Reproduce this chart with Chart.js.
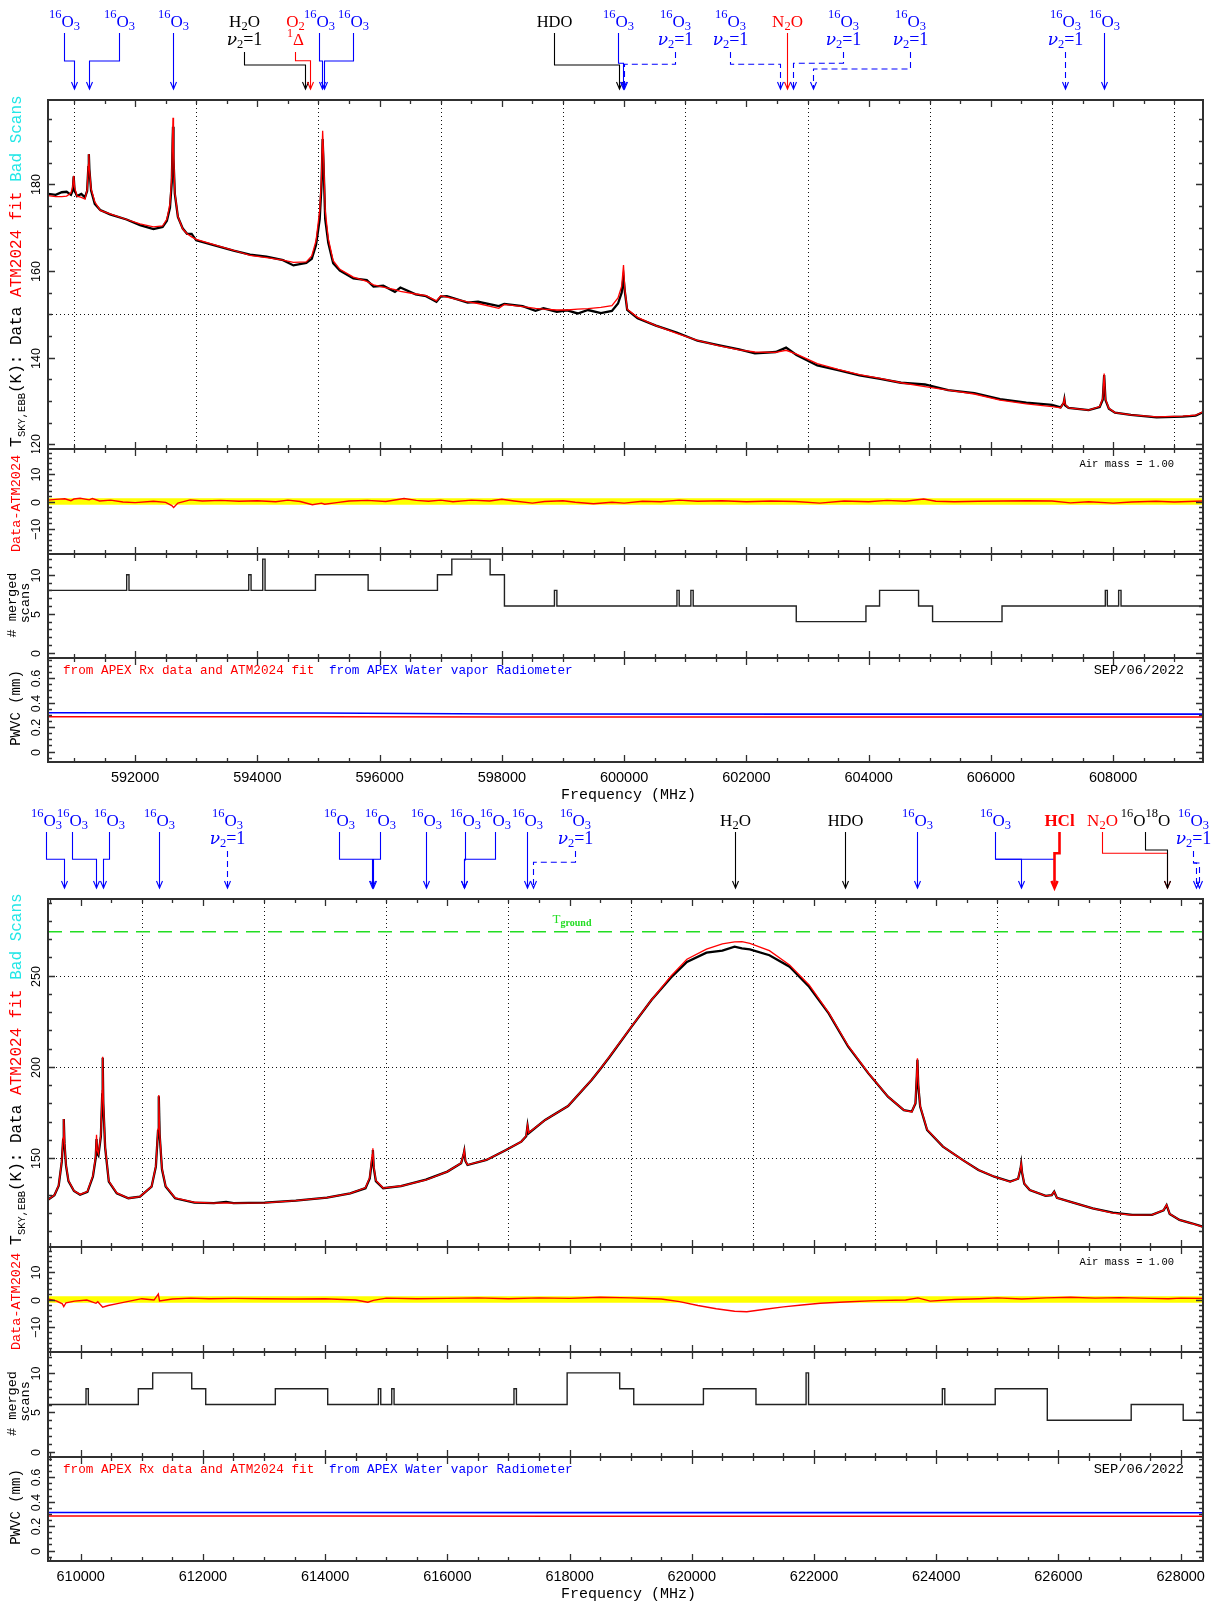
<!DOCTYPE html>
<html>
<head>
<meta charset="utf-8">
<title>APEX sky spectrum 590-628 GHz</title>
<script src="https://cdn.jsdelivr.net/npm/chart.js@4.4.1/dist/chart.umd.min.js"></script>
<style>
  body { margin: 0; background: #fff; }
  #page { position: relative; width: 1218px; height: 1602px; overflow: hidden; }
  #page canvas { position: absolute; left: 0; }
</style>
</head>
<body>
<div id="page"></div>
<script>
const MONO = '"Liberation Mono", monospace';
const SANS = '"Liberation Sans", Arial, sans-serif';
const SERIF = '"Liberation Serif", "Times New Roman", serif';
const GREEK = '"DejaVu Serif", serif';
const RED = '#ff0000', BLUE = '#0000ff', BLACK = '#000000', CYAN = '#22e6e6', GREEN = '#22dd22';

// frequency span of each half (MHz)
const topRange = [590575, 609470];
const botRange = [609465, 628365];

// ---- sky temperature, upper half (MHz / K) ----
const topFreq = [590580, 590700, 590800, 590880, 590950, 590980, 590995, 591010, 591050, 591120,
  591180, 591215, 591235, 591243, 591252, 591280, 591340, 591430, 591590, 591860,
  592080, 592300, 592450, 592520, 592570, 592600, 592614, 592620, 592628, 592650,
  592700, 592780, 592850, 592925, 593000, 593330, 593610, 593880, 594150, 594420,
  594590, 594800, 594890, 594960, 595020, 595050, 595068, 595082, 595110, 595160,
  595240, 595350, 595570, 595790, 595900, 596060, 596250, 596340, 596590, 596760,
  596930, 597000, 597100, 597440, 597610, 597950, 598040, 598340, 598550, 598680,
  598900, 599070, 599240, 599410, 599620, 599800, 599900, 599960, 599990, 600010,
  600050, 600220, 600520, 600860, 601200, 601540, 601880, 602140, 602480, 602650,
  602820, 603160, 603500, 603850, 604190, 604530, 604920, 605300, 605730, 606150,
  606580, 607000, 607140, 607190, 607202, 607215, 607270, 607600, 607780, 607830,
  607853, 607875, 607930, 608030, 608290, 608710, 609140, 609350, 609470];
const topData = [177.8, 177.6, 178.2, 178.3, 177.6, 178.6, 181.9, 178.6, 177.3, 177.8,
  177.0, 178.5, 184.0, 187.0, 183.5, 178.6, 175.5, 174.1, 173.1, 171.9,
  170.6, 169.7, 170.2, 171.6, 174.6, 180.5, 190.0, 193.3, 186.0, 177.8,
  172.5, 169.8, 168.6, 168.6, 167.1, 165.8, 164.7, 163.8, 163.3, 162.5,
  161.3, 161.9, 162.8, 166.0, 172.0, 180.0, 190.5, 185.0, 172.0, 166.5,
  161.8, 160.1, 158.3, 157.9, 156.4, 156.6, 155.2, 156.2, 154.6, 154.2,
  152.9, 154.1, 154.2, 152.7, 152.9, 151.9, 152.4, 151.9, 150.8, 151.4,
  150.6, 150.9, 150.2, 151.0, 150.3, 150.8, 152.5, 155.0, 158.7, 155.5,
  151.0, 149.1, 147.4, 145.8, 143.9, 142.9, 141.9, 141.0, 141.3, 142.3,
  140.6, 138.2, 137.1, 135.9, 135.1, 134.2, 133.8, 132.5, 131.8, 130.4,
  129.6, 129.1, 128.5, 129.5, 130.4, 129.0, 128.4, 127.9, 128.6, 130.3,
  136.0, 130.2, 128.2, 127.3, 126.8, 126.2, 126.4, 126.6, 127.4];
const topFit = [177.4, 177.2, 177.2, 177.3, 178.0, 179.5, 182.0, 179.3, 177.3, 177.0,
  176.6, 178.8, 184.5, 187.0, 183.5, 179.0, 176.0, 174.0, 173.2, 171.9,
  170.9, 170.2, 170.4, 172.0, 175.5, 182.0, 192.0, 195.4, 188.0, 178.2,
  172.6, 169.7, 168.6, 167.9, 167.3, 165.9, 164.8, 163.6, 163.1, 162.5,
  162.0, 162.1, 163.5, 167.0, 174.0, 182.0, 192.4, 187.0, 174.0, 167.5,
  162.4, 160.4, 158.6, 157.6, 156.8, 156.3, 155.7, 155.3, 154.7, 154.3,
  153.1, 154.3, 154.0, 152.9, 152.5, 151.4, 152.3, 151.8, 151.4, 151.2,
  151.0, 151.0, 151.2, 151.3, 151.6, 152.0, 153.8, 156.5, 161.4, 156.0,
  151.2, 149.3, 147.4, 145.6, 144.0, 142.8, 141.8, 141.3, 141.2, 141.7,
  140.8, 138.6, 137.3, 136.1, 135.2, 134.2, 133.3, 132.5, 131.6, 130.2,
  129.3, 128.7, 128.4, 129.6, 130.5, 129.2, 128.4, 127.9, 128.7, 130.6,
  136.3, 130.4, 128.3, 127.3, 126.8, 126.3, 126.5, 126.7, 127.5];

// ---- sky temperature, lower half ----
const botFreq = [609470, 609570, 609640, 609690, 609712, 609723, 609735, 609760, 609800, 609890,
  609990, 610110, 610200, 610245, 610259, 610270, 610290, 610330, 610352, 610360,
  610370, 610400, 610460, 610590, 610780, 610970, 611160, 611230, 611265, 611278,
  611292, 611330, 611390, 611545, 611860, 612180, 612380, 612500, 613010, 613520,
  614030, 614410, 614660, 614730, 614770, 614781, 614795, 614830, 614950, 615240,
  615650, 616000, 616225, 616265, 616277, 616295, 616330, 616640, 616960, 617210,
  617290, 617312, 617330, 617600, 617975, 618360, 618500, 618650, 619015, 619340,
  619660, 619920, 620240, 620500, 620700, 620820, 620950, 621270, 621600, 621920,
  622240, 622560, 622890, 623210, 623470, 623600, 623660, 623682, 623692, 623705,
  623737, 623850, 624110, 624430, 624690, 624950, 625210, 625340, 625380, 625390,
  625405, 625440, 625530, 625790, 625890, 625930, 625975, 626240, 626560, 626890,
  627210, 627530, 627720, 627769, 627820, 627980, 628180, 628360];
const botData = [127.4, 129.8, 135.0, 148.0, 160.0, 171.5, 158.0, 146.0, 137.5, 132.1,
  130.0, 131.6, 140.0, 150.0, 160.5, 152.5, 151.5, 162.0, 185.0, 205.0,
  180.0, 156.0, 137.2, 130.8, 128.1, 129.0, 134.4, 145.4, 165.0, 184.0,
  163.0, 144.0, 134.5, 128.1, 125.7, 125.4, 126.1, 125.4, 125.7, 126.8,
  128.4, 130.8, 133.6, 139.0, 150.0, 154.5, 145.0, 137.5, 133.6, 134.8,
  138.3, 142.7, 147.3, 152.0, 154.0, 148.5, 146.3, 149.1, 154.5, 159.1,
  162.0, 167.8, 163.7, 171.0, 178.6, 192.9, 198.8, 205.3, 222.1, 236.7,
  249.0, 257.5, 262.6, 263.7, 265.9, 264.9, 264.4, 261.2, 254.9, 243.9,
  229.4, 211.1, 196.5, 183.7, 176.4, 175.6, 180.0, 195.0, 204.0, 190.0,
  178.3, 165.5, 156.4, 149.1, 143.6, 139.9, 137.2, 138.8, 144.5, 146.9,
  142.0, 136.0, 132.6, 129.4, 129.8, 131.7, 128.3, 125.7, 122.6, 120.2,
  119.0, 119.0, 121.5, 124.3, 119.5, 116.2, 114.4, 112.5];
const botFit = [127.4, 129.8, 135.2, 148.5, 161.0, 171.5, 159.0, 146.5, 137.8, 132.2,
  130.2, 131.8, 140.5, 151.0, 162.8, 154.5, 152.5, 163.0, 187.0, 205.6,
  182.0, 156.5, 137.5, 131.0, 128.1, 129.0, 134.5, 145.8, 166.0, 184.7,
  164.0, 144.5, 134.8, 128.3, 125.9, 125.4, 125.6, 125.4, 125.6, 126.8,
  128.4, 130.8, 133.8, 139.5, 152.0, 155.5, 146.0, 137.8, 133.7, 134.8,
  138.1, 142.7, 147.4, 152.3, 154.5, 148.8, 146.4, 149.1, 154.5, 159.1,
  162.3, 168.2, 164.0, 171.0, 178.6, 192.9, 198.8, 205.5, 222.3, 236.7,
  249.8, 259.0, 264.5, 267.4, 268.5, 268.7, 267.7, 263.7, 255.9, 244.9,
  229.8, 211.5, 196.7, 183.8, 176.4, 175.4, 180.5, 197.0, 204.8, 192.0,
  178.6, 165.8, 156.4, 149.1, 143.6, 139.9, 137.1, 138.8, 145.0, 147.2,
  142.5, 136.2, 132.7, 129.4, 129.8, 131.8, 128.3, 125.7, 122.6, 120.0,
  118.9, 119.0, 121.6, 124.5, 119.6, 116.2, 114.4, 112.4];
const tGround = 274;

// ---- Data - ATM2024 residuals (K) ----
const topResFreq = [590575, 590700, 590850, 590950, 591000, 591100, 591250, 591300, 591420, 591600,
  591800, 592000, 592300, 592500, 592600, 592630, 592700, 592900, 593100, 593400,
  593700, 594000, 594300, 594500, 594700, 594900, 595050, 595100, 595300, 595500,
  595800, 596100, 596400, 596600, 596800, 597000, 597200, 597500, 597800, 598000,
  598200, 598500, 598700, 599000, 599200, 599500, 599800, 600000, 600300, 600600,
  600900, 601200, 601600, 602000, 602400, 602800, 603200, 603600, 604000, 604300,
  604600, 604900, 605100, 605400, 605800, 606200, 606600, 607000, 607300, 607600,
  608000, 608300, 608700, 609000, 609470];
const topRes = [0.5, 0.8, 1.0, 0.3, 0.9, 1.2, 0.6, 1.1, 0.2, 0.5,
  -0.2, -0.4, 0.1, -0.3, -1.5, -2.2, -0.6, 0.6, 0.2, 0.4,
  0.1, 0.3, -0.1, 0.5, 0.0, -1.2, -0.6, -1.0, -0.4, 0.2,
  0.4, 0.0, 1.1, 0.4, 0.1, 0.5, -0.1, 0.5, 0.2, 0.8,
  0.2, -0.6, 0.0, 0.3, -0.3, -0.8, -0.3, -0.6, 0.1, -0.1,
  0.5, 0.1, 0.3, -0.1, 0.2, 0.0, -0.6, 0.2, -0.1, 0.4,
  0.1, 0.9, 0.1, -0.1, 0.1, 0.2, 0.3, 0.2, -0.5, -0.1,
  -0.6, -0.2, 0.1, -0.2, 0.2];
const botResFreq = [609465, 609600, 609700, 609723, 609760, 609900, 610100, 610250, 610280, 610360,
  610450, 610600, 610800, 611000, 611200, 611270, 611290, 611500, 611800, 612100,
  612500, 613000, 613500, 614000, 614500, 614700, 614790, 615000, 615500, 616000,
  616500, 617000, 617500, 618000, 618500, 619000, 619500, 619800, 620100, 620400,
  620700, 620900, 621200, 621500, 621800, 622100, 622500, 623000, 623500, 623700,
  623900, 624300, 624700, 625000, 625400, 625800, 626200, 626600, 627000, 627500,
  627800, 628000, 628365];
const botRes = [0.2, -0.5, -1.6, -2.6, -1.2, -0.6, -0.2, -1.4, -0.8, -2.8,
  -2.2, -1.5, -0.6, 0.3, -0.2, 2.0, -0.5, 0.2, 0.5, 0.3,
  0.4, 0.3, 0.2, 0.3, -0.2, -1.0, -0.3, 0.5, 0.3, 0.4,
  0.6, 0.3, 0.6, 0.4, 0.8, 0.6, 0.2, -0.8, -2.2, -3.4,
  -4.3, -4.5, -3.6, -2.7, -2.0, -1.4, -0.9, -0.4, -0.2, 0.6,
  -0.6, 0.0, 0.3, 0.6, 0.2, 0.6, 0.8, 0.5, 0.7, 0.4,
  0.3, 0.5, 0.4];
const residBand = 1.2;
const airMass = 1.00;

// ---- number of merged scans (value holds from each edge to the next) ----
const topScanEdge = [590575, 591862, 591900, 593859, 593897, 594088, 594126, 594950, 595812, 596946,
  597181, 597808, 598042, 598860, 598900, 600864, 600901, 601092, 601130, 602816,
  603956, 604179, 604817, 605046, 606182, 607872, 607905, 608090, 608129, 609470];
const topScans = [8, 10, 8, 10, 8, 12, 8, 10, 8, 10,
  12, 10, 6, 8, 6, 8, 6, 8, 6, 4,
  6, 8, 6, 4, 6, 8, 6, 8, 6, 6];
const botScanEdge = [609465, 610087, 610125, 610943, 611178, 611817, 612046, 613185, 614042, 614871,
  614910, 615090, 615128, 617090, 617130, 617960, 618820, 619050, 620190, 621050,
  621870, 621910, 624100, 624140, 624965, 625817, 627190, 628041, 628365];
const botScans = [6, 8, 6, 8, 10, 8, 6, 8, 6, 8,
  6, 8, 6, 8, 6, 10, 8, 6, 8, 6,
  10, 6, 8, 6, 8, 4, 6, 4, 4];

// ---- precipitable water vapour (mm) ----
const topPwvFreq = [590575, 595000, 598000, 603000, 609470];
const topPwvFit = [0.284, 0.284, 0.283, 0.283, 0.283];
const topPwvWvr = [0.318, 0.316, 0.307, 0.306, 0.306];
const botPwvFreq = [609465, 614000, 618000, 623000, 628365];
const botPwvFit = [0.283, 0.282, 0.281, 0.281, 0.281];
const botPwvWvr = [0.312, 0.311, 0.310, 0.310, 0.309];
const obsDate = 'SEP/06/2022';

// ---- identified lines: species and frequency (MHz) ----
const topLineSpecies = ['O3', 'O3', 'O3', 'H2Ov2', 'O2D', 'O3', 'O3', 'HDO',
  'O3', 'O3v2', 'O3v2', 'N2O', 'O3v2', 'O3v2', 'O3v2', 'O3'];
const topLineFreq = [591000, 591245, 592617, 594779, 594869, 595055, 595090, 599917,
  599983, 599990, 602542, 602659, 602767, 603091, 607206, 607851];
const botLineSpecies = ['O3', 'O3', 'O3', 'O3', 'O3v2', 'O3', 'O3', 'O3', 'O3', 'O3', 'O3',
  'O3v2', 'H2O', 'HDO', 'O3', 'O3', 'O3', 'HCl', 'N2O', 'OO18', 'O3v2', 'O3v2'];
const botLineFreq = [609723, 610255, 610360, 611279, 612388, 614765, 614785, 615656, 616280, 616280, 617310,
  617396, 620712, 622499, 623692, 625390, 625925, 625932, 627769, 627769, 628245, 628305];

// where each label sits (MHz) and how far above the frame its leader bends (px)
const topMarkLayout = [
  { at: 590837, bend: 39 }, { at: 591737, bend: 39 }, { at: 592617 }, { at: 593776, bend: 35 },
  { at: 594617, bend: 39.3 }, { at: 595005, bend: 39 }, { at: 595566, bend: 39 }, { at: 598849, bend: 35 },
  { at: 599898, bend: 36.7 }, { at: 600834, bend: 35.7 }, { at: 601736, bend: 35.7 }, { at: 602659 },
  { at: 603575, bend: 36.7 }, { at: 604684, bend: 31 }, { at: 607206 }, { at: 607851 }
];
const botMarkLayout = [
  { at: 609437, bend: 39.7 }, { at: 609864, bend: 39.7 }, { at: 610471, bend: 39.7 }, { at: 611281 },
  { at: 612388 }, { at: 614232, bend: 39.7 }, { at: 614892, bend: 39.7 }, { at: 615656 },
  { at: 616283 }, { at: 616787, bend: 39.7 }, { at: 617306 }, { at: 618095, bend: 36.7 },
  { at: 620712 }, { at: 622499 }, { at: 623692 }, { at: 624969, bend: 39.7 },
  { at: 624969, bend: 39.7, hide: true }, { at: 626014, bend: 45.7 }, { at: 626705, bend: 45.7 },
  { at: 627420, bend: 49 }, { at: 628208, bend: 36 }, { at: 628208, bend: 36, hide: true }
];

// label glyph runs: [text, size, baseline shift, style, family]
const O3ROW = [['16', 12.5, -9], ['O', 17, 0], ['3', 12.5, 3]];
const V2ROW = [['\u03bd', 17, 0, 'italic', GREEK], ['2', 12.5, 3], ['=1', 18, 0]];
const SPECIES = {
  O3: { color: BLUE, rows: [O3ROW] },
  O3v2: { color: BLUE, dash: true, rows: [O3ROW, V2ROW] },
  H2Ov2: { color: BLACK, rows: [[['H', 17, 0], ['2', 12.5, 3], ['O', 17, 0]], V2ROW] },
  H2O: { color: BLACK, rows: [[['H', 17, 0], ['2', 12.5, 3], ['O', 17, 0]]] },
  O2D: { color: RED, rows: [[['O', 17, 0], ['2', 12.5, 3]], [['1', 12, -8], ['\u0394', 17, 0]]] },
  HDO: { color: BLACK, rows: [[['HDO', 16.5, 0]]] },
  N2O: { color: RED, rows: [[['N', 17, 0], ['2', 12.5, 3], ['O', 17, 0]]] },
  HCl: { color: RED, width: 2.6, rows: [[['HCl', 17, 0, 'bold']]] },
  OO18: { color: BLACK, rows: [[['16', 12.5, -9], ['O', 17, 0], ['18', 12.5, -9], ['O', 17, 0]]] }
};

const page = document.getElementById('page');
const specs = new WeakMap();
const pts = (xs, ys) => xs.map((x, i) => ({ x: x, y: ys[i] }));
const flat = (r, v) => [{ x: r[0], y: v }, { x: r[1], y: v }];
const runFont = p => (p[3] ? p[3] + ' ' : '') + p[1] + 'px ' + (p[4] || SERIF);

function drawRow(ctx, row, cx, by, color) {
  let w = 0;
  row.forEach(p => { ctx.font = runFont(p); w += ctx.measureText(p[0]).width; });
  let x = cx - w / 2;
  ctx.fillStyle = color;
  ctx.textAlign = 'left';
  ctx.textBaseline = 'alphabetic';
  row.forEach(p => {
    ctx.font = runFont(p);
    ctx.fillText(p[0], x, by + p[2]);
    x += ctx.measureText(p[0]).width;
  });
}

// vertical text reading bottom to top; parts = [text, font, color, shift]
function rotText(ctx, parts, bx, y, center) {
  ctx.save();
  ctx.translate(bx, y);
  ctx.rotate(-Math.PI / 2);
  ctx.textAlign = 'left';
  ctx.textBaseline = 'alphabetic';
  let w = 0;
  parts.forEach(p => { ctx.font = p[1]; w += ctx.measureText(p[0]).width; });
  let x = center ? -w / 2 : 0;
  parts.forEach(p => {
    ctx.font = p[1];
    ctx.fillStyle = p[2];
    ctx.fillText(p[0], x, p[3] || 0);
    x += ctx.measureText(p[0]).width;
  });
  ctx.restore();
}

function drawMarks(chart, names, freqs, layout) {
  const ctx = chart.ctx, xs = chart.scales.x, T = chart.chartArea.top;
  names.forEach((name, i) => {
    const sp = SPECIES[name], lay = layout[i];
    const lx = Math.round(xs.getPixelForValue(lay.at)) + 0.5;
    const tx = Math.round(xs.getPixelForValue(freqs[i])) + 0.5;
    const two = sp.rows.length > 1;
    if (!lay.hide) {
      drawRow(ctx, sp.rows[0], lx, T - 73, sp.color);
      if (two) drawRow(ctx, sp.rows[1], lx, T - 55, sp.color);
    }
    const yb = T - (lay.bend || 39), yt = T - 11;
    const y0 = lay.hide ? yb : T - (two ? 48 : 67);
    ctx.save();
    ctx.strokeStyle = sp.color;
    ctx.lineWidth = sp.width || 1.1;
    if (sp.dash) ctx.setLineDash([6, 4]);
    ctx.beginPath();
    ctx.moveTo(lx, y0);
    if (Math.abs(lx - tx) > 0.6) { ctx.lineTo(lx, yb); ctx.lineTo(tx, yb); }
    ctx.lineTo(tx, yt);
    ctx.stroke();
    ctx.setLineDash([]);
    ctx.beginPath();
    ctx.moveTo(tx - 3, yt - 7);
    ctx.lineTo(tx, yt);
    ctx.lineTo(tx + 3, yt - 7);
    ctx.stroke();
    ctx.restore();
  });
}

const fmtY = v => (v < 0 ? '\u2212' : '') + String(+Math.abs(v).toFixed(2));

// frame, inward ticks, dotted grid and labels in the old plotting style
const pgFrame = {
  id: 'pgFrame',
  beforeDatasetsDraw(chart) {
    const s = specs.get(chart.canvas);
    if (!s.grid) return;
    const { ctx, chartArea: a } = chart;
    const xs = chart.scales.x, ys = chart.scales.y;
    ctx.save();
    ctx.strokeStyle = '#111';
    ctx.lineWidth = 1;
    ctx.setLineDash([1, 3]);
    ctx.beginPath();
    for (let f = Math.floor(xs.min / 2000) * 2000 + 1000; f < xs.max; f += 2000) {
      if (f <= xs.min) continue;
      const px = Math.round(xs.getPixelForValue(f)) + 0.5;
      ctx.moveTo(px, a.top);
      ctx.lineTo(px, a.bottom);
    }
    for (let v = Math.ceil(ys.min / 50) * 50; v < ys.max; v += 50) {
      const py = Math.round(ys.getPixelForValue(v)) + 0.5;
      ctx.moveTo(a.left, py);
      ctx.lineTo(a.right, py);
    }
    ctx.stroke();
    ctx.restore();
  },
  afterDatasetsDraw(chart) {
    const s = specs.get(chart.canvas);
    const { ctx, chartArea: a } = chart;
    const xs = chart.scales.x, ys = chart.scales.y;
    ctx.save();
    ctx.strokeStyle = '#303030';
    ctx.lineWidth = 1.3;
    ctx.beginPath();
    for (let k = Math.ceil(xs.min / 500); k * 500 <= xs.max; k++) {
      const px = Math.round(xs.getPixelForValue(k * 500)) + 0.5;
      const len = k % 4 === 0 ? 7 : 4;
      ctx.moveTo(px, a.top); ctx.lineTo(px, a.top + len);
      ctx.moveTo(px, a.bottom); ctx.lineTo(px, a.bottom - len);
    }
    const step = s.yTicks[0], per = s.yTicks[1];
    const labels = [];
    for (let k = Math.ceil(ys.min / step - 1e-9); k * step <= ys.max + 1e-9; k++) {
      const py = Math.round(ys.getPixelForValue(k * step)) + 0.5;
      const major = k % per === 0;
      const len = major ? 7 : 4;
      ctx.moveTo(a.left, py); ctx.lineTo(a.left + len, py);
      ctx.moveTo(a.right, py); ctx.lineTo(a.right - len, py);
      if (major) labels.push([fmtY(k * step), py]);
    }
    ctx.stroke();
    ctx.lineWidth = 2;
    ctx.strokeRect(a.left, a.top, a.right - a.left, a.bottom - a.top);

    labels.forEach(l => rotText(ctx, [[l[0], '12.5px ' + SANS, BLACK]], 40, l[1], true));

    if (s.xLabels) {
      ctx.fillStyle = BLACK;
      ctx.font = '14.5px ' + SANS;
      ctx.textAlign = 'center';
      ctx.textBaseline = 'alphabetic';
      for (let f = Math.ceil(xs.min / 2000) * 2000; f <= xs.max; f += 2000) {
        ctx.fillText(String(f), xs.getPixelForValue(f), a.bottom + 20);
      }
      ctx.font = '15px ' + MONO;
      ctx.fillText('Frequency (MHz)', (a.left + a.right) / 2 + 3, a.bottom + 37);
    }
    if (s.extra) s.extra(ctx, a, chart);
    ctx.restore();
  }
};

function panel(y0, y1, padTop, padBottom, datasets, xr, yr, spec) {
  const c = document.createElement('canvas');
  c.width = 1218;
  c.height = (y1 - y0) + padTop + padBottom;
  c.style.top = (y0 - padTop) + 'px';
  page.appendChild(c);
  specs.set(c, spec);
  return new Chart(c, {
    type: 'line',
    data: { datasets: datasets },
    options: {
      responsive: false,
      animation: false,
      devicePixelRatio: 1,
      events: [],
      layout: { autoPadding: false, padding: { left: 48, right: 15, top: padTop, bottom: padBottom } },
      scales: {
        x: { type: 'linear', min: xr[0], max: xr[1], display: false },
        y: { type: 'linear', min: yr[0], max: yr[1], display: false }
      },
      elements: { point: { radius: 0 }, line: { tension: 0 } },
      plugins: { legend: { display: false }, tooltip: { enabled: false } }
    },
    plugins: [pgFrame]
  });
}

function mainTitle(ctx, a) {
  rotText(ctx, [
    ['T', '16.5px ' + MONO, BLACK, 0],
    ['SKY,EBB', '10.5px ' + MONO, BLACK, 4.5],
    ['(K): Data ', '16px ' + MONO, BLACK, 0],
    ['ATM2024 fit ', '16px ' + MONO, RED, 0],
    ['Bad Scans', '16px ' + MONO, CYAN, 0]
  ], 20.5, a.bottom - 2, false);
}
function residTitle(ctx, a) {
  rotText(ctx, [['Data-ATM2024', '13.5px ' + MONO, RED]], 20, (a.top + a.bottom) / 2 + 2, true);
  ctx.fillStyle = BLACK;
  ctx.font = '10.5px ' + MONO;
  ctx.textAlign = 'right';
  ctx.fillText('Air mass = ' + airMass.toFixed(2), 1174, a.top + 17.5);
}
function scanTitle(ctx, a) {
  const cy = (a.top + a.bottom) / 2;
  rotText(ctx, [['# merged', '13.5px ' + MONO, BLACK]], 16, cy - 1, true);
  rotText(ctx, [['scans', '13.5px ' + MONO, BLACK]], 29, cy - 3, true);
}
function pwvTitle(ctx, a) {
  rotText(ctx, [['PWVC (mm)', '14px ' + MONO, BLACK]], 20, (a.top + a.bottom) / 2 - 2, true);
  ctx.font = '12.7px ' + MONO;
  ctx.textAlign = 'left';
  ctx.fillStyle = RED;
  ctx.fillText('from APEX Rx data and ATM2024 fit', 63, a.top + 16);
  ctx.fillStyle = BLUE;
  ctx.fillText('from APEX Water vapor Radiometer', 329, a.top + 16);
  ctx.fillStyle = BLACK;
  ctx.font = '13.7px ' + MONO;
  ctx.textAlign = 'right';
  ctx.fillText(obsDate, 1184, a.top + 16);
}

function lowerPanels(tops, range, resF, res, scanE, scans, pwvF, pwvFit, pwvWvr) {
  panel(tops[1], tops[2], 4, 4, [
    { data: pts(resF, res), borderColor: RED, borderWidth: 1.4 },
    { data: flat(range, residBand), borderColor: 'rgba(0,0,0,0)', borderWidth: 0, fill: '+1', backgroundColor: '#ffff00' },
    { data: flat(range, -residBand), borderColor: 'rgba(0,0,0,0)', borderWidth: 0 }
  ], range, [-19.3, 19.3], { yTicks: [2, 5], extra: residTitle });

  panel(tops[2], tops[3], 4, 4, [
    { data: pts(scanE, scans), borderColor: '#222', borderWidth: 1.4, stepped: true }
  ], range, [-0.65, 12.65], { yTicks: [1, 5], extra: scanTitle });

  panel(tops[3], tops[4], 4, 42, [
    { data: pts(pwvF, pwvWvr), borderColor: BLUE, borderWidth: 1.6 },
    { data: pts(pwvF, pwvFit), borderColor: RED, borderWidth: 1.5 }
  ], range, [-0.085, 0.765], { yTicks: [0.05, 4], xLabels: true, extra: pwvTitle });
}

// upper half
const TOP = [100, 449, 554, 658, 762];
panel(TOP[0], TOP[1], 100, 4, [
  { data: pts(topFreq, topFit), borderColor: RED, borderWidth: 1.3 },
  { data: pts(topFreq, topData), borderColor: BLACK, borderWidth: 2.3 }
], topRange, [118.9, 199.5], {
  yTicks: [5, 4], grid: true,
  extra: (ctx, a, chart) => { mainTitle(ctx, a); drawMarks(chart, topLineSpecies, topLineFreq, topMarkLayout); }
});
lowerPanels(TOP, topRange, topResFreq, topRes, topScanEdge, topScans, topPwvFreq, topPwvFit, topPwvWvr);

// lower half
const BOT = [899, 1247, 1352, 1457, 1561];
panel(BOT[0], BOT[1], 100, 4, [
  { data: pts(botFreq, botFit), borderColor: RED, borderWidth: 1.3 },
  { data: pts(botFreq, botData), borderColor: BLACK, borderWidth: 2.3 },
  { data: flat(botRange, tGround), borderColor: GREEN, borderWidth: 1.5, borderDash: [14, 8] }
], botRange, [101.4, 292.0], {
  yTicks: [10, 5], grid: true,
  extra: (ctx, a, chart) => {
    mainTitle(ctx, a);
    drawMarks(chart, botLineSpecies, botLineFreq, botMarkLayout);
    const gx = chart.scales.x.getPixelForValue(618040);
    const gy = chart.scales.y.getPixelForValue(tGround) - 9;
    drawRow(ctx, [['T', 13, 0], ['ground', 10, 3, 'bold']], gx, gy, GREEN);
  }
});
lowerPanels(BOT, botRange, botResFreq, botRes, botScanEdge, botScans, botPwvFreq, botPwvFit, botPwvWvr);
</script>
</body>
</html>
